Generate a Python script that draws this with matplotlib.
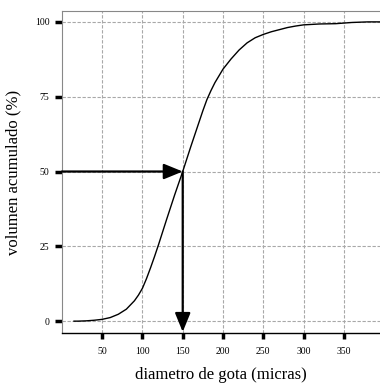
import matplotlib
matplotlib.use("Agg")
import matplotlib.pyplot as plt

# cumulative volume curve (diameter in microns, cumulative volume %)
diametro = [15, 20, 30, 40, 50, 60, 70, 80, 90, 95, 100, 105, 110, 115, 120,
            130, 140, 150, 160, 170, 175, 180, 185, 190, 200, 210, 220, 230,
            240, 250, 260, 270, 280, 290, 300, 320, 340, 360, 380, 395]
volumen = [0.0, 0.0, 0.1, 0.3, 0.6, 1.2, 2.3, 4.0, 6.8, 8.7, 11.0, 14.2,
           17.8, 21.6, 25.6, 34.0, 42.2, 50.0, 58.3, 66.3, 70.3, 74.0, 77.0,
           79.7, 84.2, 87.6, 90.6, 93.0, 94.7, 95.8, 96.7, 97.4, 98.1, 98.6,
           99.0, 99.3, 99.4, 99.8, 100.0, 100.0]

dv50 = 150
x_ticks = [50, 100, 150, 200, 250, 300, 350]
y_ticks = [0, 25, 50, 75, 100]

plt.rcParams['font.family'] = ['Liberation Serif', 'DejaVu Serif']

fig = plt.figure(figsize=(3.8, 3.86), dpi=100)
ax = fig.add_axes([0.163, 0.137, 0.837, 0.835])

ax.plot(diametro, volumen, color='black', linewidth=1.0, zorder=3)

ax.set_xlim(0, 395)
ax.set_ylim(-4, 103.7)
ax.set_xticks(x_ticks)
ax.set_yticks(y_ticks)
ax.grid(True, color='#a8a8a8', linestyle='--', linewidth=0.8, dashes=(3, 1.5))
ax.set_axisbelow(True)

# arrows marking the median diameter
arrow = dict(arrowstyle='-|>,head_length=1.15,head_width=0.47',
             color='black', lw=1.6, shrinkA=0, shrinkB=0, mutation_scale=10)
ax.annotate('', xy=(dv50, 50), xytext=(0, 50), arrowprops=arrow, zorder=4)
ax.annotate('', xy=(dv50, -3.6), xytext=(dv50, 50), arrowprops=arrow, zorder=4)

ax.spines['right'].set_visible(False)
ax.spines['left'].set_color('#888888')
ax.spines['top'].set_color('#888888')
ax.spines['bottom'].set_color('black')
ax.spines['bottom'].set_linewidth(1.0)

ax.tick_params(axis='y', length=5, width=2.5, color='black', labelsize=7, pad=4)
ax.tick_params(axis='x', length=4, width=2.5, color='black', labelsize=7, pad=6)

ax.set_xlabel('diametro de gota (micras)', fontsize=12, labelpad=8)
ax.set_ylabel('volumen acumulado (%)', fontsize=12, labelpad=10)

fig.savefig('out.png', dpi=100)
